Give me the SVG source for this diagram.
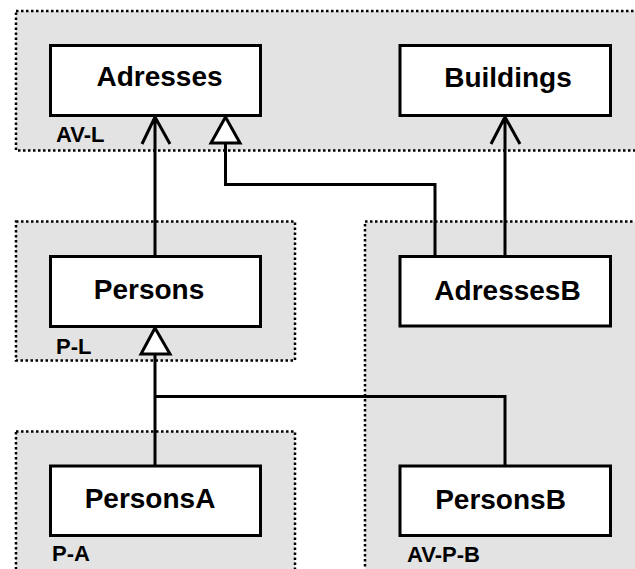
<svg xmlns="http://www.w3.org/2000/svg" width="635" height="569" viewBox="0 0 635 569">
<defs>
<style>
.cluster{fill:#e3e3e3;stroke:#000;stroke-width:2.5;stroke-dasharray:2.5 2.5}
.node{fill:#fff;stroke:#000;stroke-width:3}
.name{font-family:"Liberation Sans",Arial,sans-serif;font-weight:bold;font-size:28px;fill:#000;text-anchor:middle}
.clabel{font-family:"Liberation Sans",Arial,sans-serif;font-weight:bold;font-size:22px;fill:#000}
.edge{fill:none;stroke:#000;stroke-width:3}
.tri{fill:#fff;stroke:#000;stroke-width:3;stroke-linejoin:miter}
</style>
</defs>
<rect width="635" height="569" fill="#fff"/>
<g id="clusters">
<g id="cluster-AV-L"><rect class="cluster" x="16" y="11" width="640" height="139.5"/><text class="clabel" x="56" y="142">AV-L</text></g>
<g id="cluster-P-L"><rect class="cluster" x="16" y="221.5" width="279" height="139"/><text class="clabel" x="56" y="354">P-L</text></g>
<g id="cluster-AV-P-B"><rect class="cluster" x="365" y="221.5" width="300" height="370"/><text class="clabel" x="407" y="562">AV-P-B</text></g>
<g id="cluster-P-A"><rect class="cluster" x="16" y="431.5" width="279" height="160"/><text class="clabel" x="52" y="561">P-A</text></g>
</g>
<g id="connectors">
<path class="edge" d="M155,256.5 V117 M142,144 L155,117 L170,144"/>
<path class="edge" d="M435,256.5 V184.5 H225.5 V143"/>
<polygon class="tri" points="225.5,117 211,143 240,143"/>
<path class="edge" d="M505,256.5 V117 M491,144 L505,117 L520,144"/>
<path class="edge" d="M155,466 V354 M155,396.5 H505 V466"/>
<polygon class="tri" points="155,328 141,354 170,354"/>
</g>
<g id="node-Adresses"><rect class="node" x="50.5" y="45.5" width="210" height="70"/><text class="name" x="159.5" y="86">Adresses</text></g>
<g id="node-Buildings"><rect class="node" x="400" y="45.5" width="210.5" height="70"/><text class="name" x="508" y="87">Buildings</text></g>
<g id="node-Persons"><rect class="node" x="50.5" y="256.5" width="210" height="70"/><text class="name" x="149" y="299">Persons</text></g>
<g id="node-AdressesB"><rect class="node" x="400" y="256.5" width="210.5" height="69.5"/><text class="name" x="507.5" y="300">AdressesB</text></g>
<g id="node-PersonsA"><rect class="node" x="50.5" y="466" width="210" height="69.5"/><text class="name" x="150" y="508">PersonsA</text></g>
<g id="node-PersonsB"><rect class="node" x="400" y="466" width="210.5" height="69.5"/><text class="name" x="500.5" y="509">PersonsB</text></g>
</svg>
